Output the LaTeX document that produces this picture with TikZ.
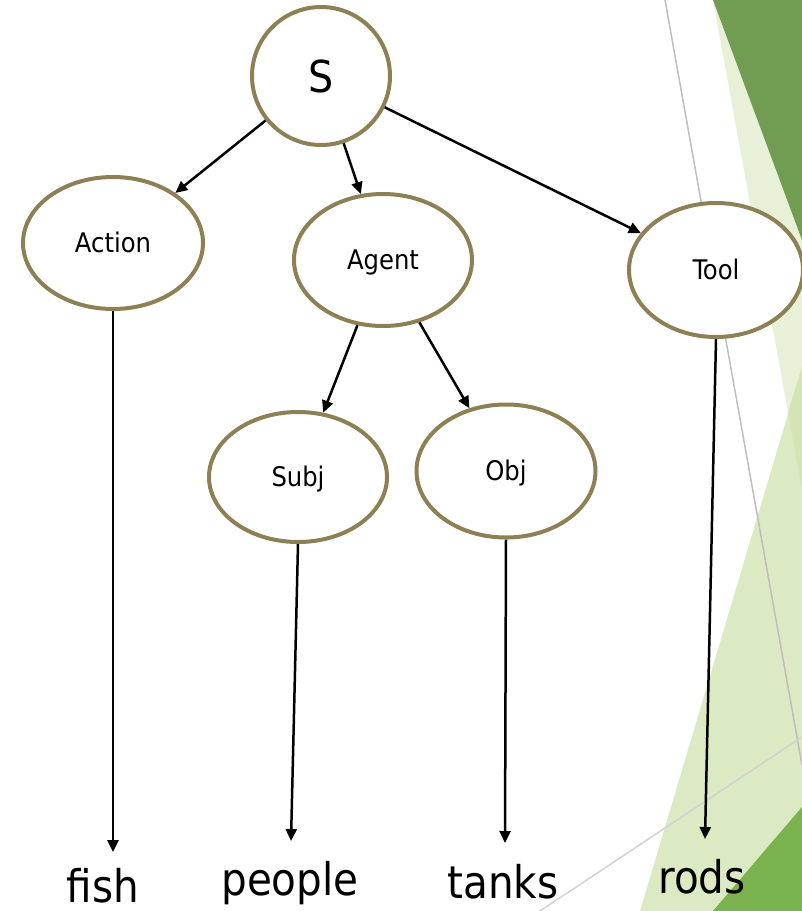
\documentclass[tikz,border=0pt]{standalone}
\usepackage{fontspec}
\setmainfont{DejaVu Sans Condensed}
\usetikzlibrary{shapes.geometric,arrows.meta}

\definecolor{rimolive}{RGB}{140,128,84}
\definecolor{leafdark}{RGB}{113,157,82}
\definecolor{leafpale}{RGB}{232,240,216}
\definecolor{leaflight}{RGB}{220,234,195}
\definecolor{leafmix}{RGB}{212,228,180}
\definecolor{leafgrass}{RGB}{122,179,78}
\definecolor{seamgray}{RGB}{190,190,190}
\definecolor{seamlight}{RGB}{210,210,210}

\tikzset{
  concept/.style={ellipse, draw=rimolive, line width=4pt, fill=white,
    inner sep=0pt, text height=19.7pt, text depth=0pt,
    font=\fontsize{27}{27}\selectfont},
  rootnode/.style={circle, draw=rimolive, line width=4pt, fill=white,
    minimum size=138pt, inner sep=0pt, text height=32pt, text depth=0pt,
    font=\fontsize{44}{44}\selectfont},
  word/.style={anchor=base, inner sep=0pt, font=\fontsize{45}{45}\selectfont},
  link/.style={line width=2.5pt, -{Triangle[length=12pt,width=11pt]}},
}

\begin{document}
\begin{tikzpicture}[x=1pt,y=-1pt]
\useasboundingbox (0,0) rectangle (802,911);

% decorative backdrop on the right edge
\fill[leafpale] (713,0) -- (802,0) -- (802,489) -- cycle;
\fill[leaflight] (802,367) -- (640,911) -- (802,911) -- cycle;
\fill[leafmix] (802,367) -- (788,413) -- (802,489) -- cycle;
\fill[leafdark] (713,0) -- (802,0) -- (802,240) -- cycle;
\fill[leafgrass] (802,807) -- (713,911) -- (802,911) -- cycle;
\draw[seamgray, line width=1.5pt] (665,0) -- (802,765);
\draw[seamlight, line width=1.5pt] (540,911) -- (802,737);

% tree nodes
\node[rootnode] (S) at (321,76) {S};
\node[concept, minimum width=180pt, minimum height=132pt] (Action) at (113,243) {Action};
\node[concept, minimum width=178pt, minimum height=132pt] (Agent) at (383,260) {Agent};
\node[concept, minimum width=174pt, minimum height=134pt] (Tool) at (716,270) {Tool};
\node[concept, minimum width=178pt, minimum height=130pt] (Subj) at (298,477) {Subj};
\node[concept, minimum width=179pt, minimum height=133pt] (Obj) at (506,471) {Obj};

% surface words
\node[word] (fish) at (103,902) {fish};
\node[word] (people) at (290,895) {people};
\node[word] (tanks) at (503,898) {tanks};
\node[word] (rods) at (702,893) {rods};

\coordinate (fishtip) at (113,852);
\coordinate (peopletip) at (291,841);
\coordinate (tankstip) at (505,843);
\coordinate (rodstip) at (705,839);

% connectors
\draw[link] (S) -- (Action);
\draw[link] (S) -- (Agent);
\draw[link] (S) -- (Tool);
\draw[link] (Agent) -- (Subj);
\draw[link] (Agent) -- (Obj);
\draw[link] (Action.south) -- (fishtip);
\draw[link] (Subj.south) -- (peopletip);
\draw[link] (Obj.south) -- (tankstip);
\draw[link] (Tool.south) -- (rodstip);
\end{tikzpicture}
\end{document}
